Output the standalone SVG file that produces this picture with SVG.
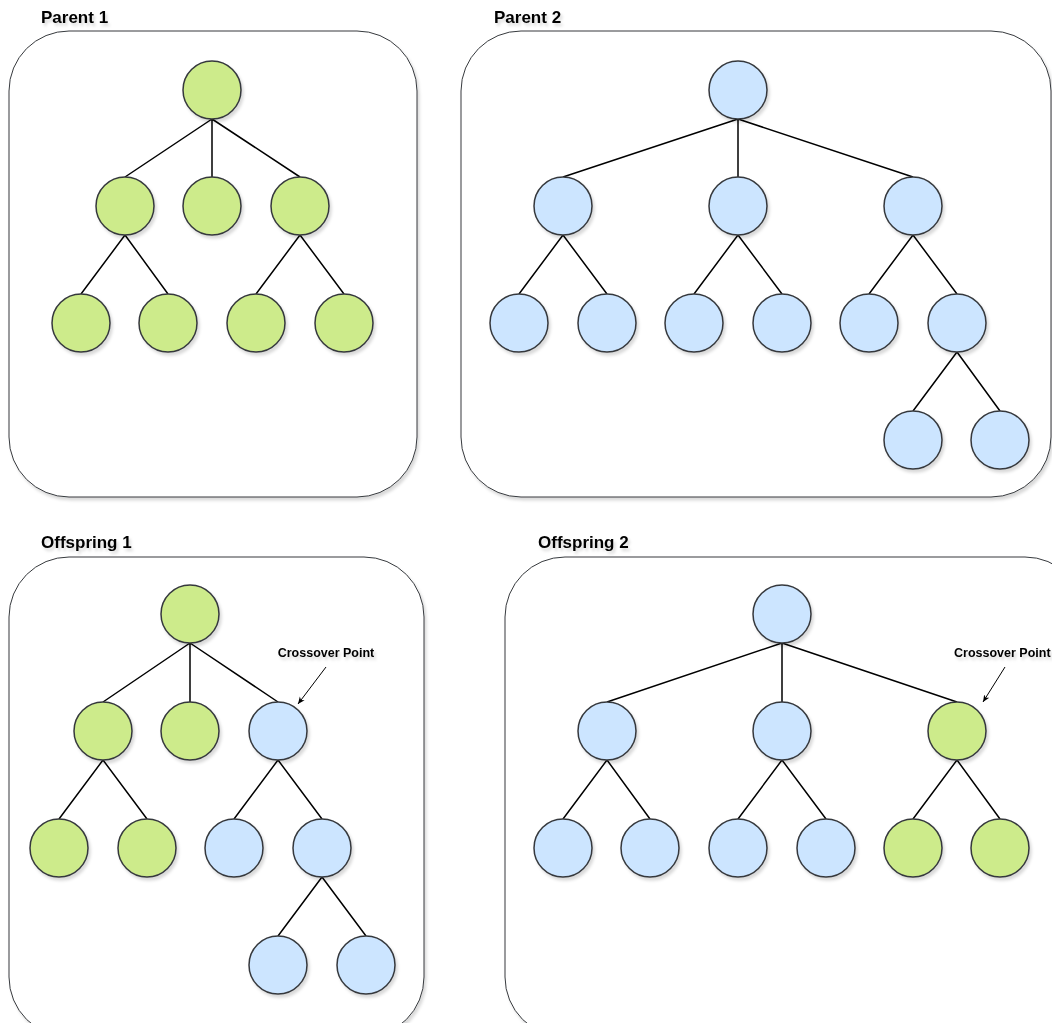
<svg xmlns="http://www.w3.org/2000/svg" width="1052" height="1023" viewBox="0 0 1052 1023">
<defs>
<filter id="sh" x="-10%" y="-10%" width="130%" height="130%"><feDropShadow dx="2" dy="3" stdDeviation="1.5" flood-color="#000" flood-opacity="0.15"/></filter>
<marker id="ah" markerWidth="8" markerHeight="8" refX="7" refY="4" orient="auto" markerUnits="userSpaceOnUse"><path d="M0,1 L7,4 L0,7 L2,4 Z" fill="#000"/></marker>
<style>
.box{fill:#fff;stroke:#36393d;stroke-width:1;filter:url(#sh)}
.g{fill:#cdeb8b;stroke:#36393d;stroke-width:1.5;filter:url(#sh)}
.b{fill:#cce5ff;stroke:#36393d;stroke-width:1.5;filter:url(#sh)}
.e{stroke:#000;stroke-width:1.5;fill:none}
.t{font-family:"Liberation Sans",Arial,sans-serif;font-weight:bold;font-size:17px;fill:#000;filter:url(#sh)}
.c{font-family:"Liberation Sans",Arial,sans-serif;font-weight:bold;font-size:12.5px;fill:#000;filter:url(#sh)}
.a{stroke:#000;stroke-width:1;fill:none;marker-end:url(#ah)}
</style>
</defs>
<rect width="1052" height="1023" fill="#fff"/>
<g id="frames">
<rect id="box-parent1" class="box" x="9" y="31" width="408" height="466" rx="60" ry="60"/>
<rect id="box-parent2" class="box" x="461" y="31" width="590" height="466" rx="60" ry="60"/>
<rect id="box-offspring1" class="box" x="9" y="557" width="415" height="480" rx="60" ry="60"/>
<rect id="box-offspring2" class="box" x="505" y="557" width="580" height="480" rx="60" ry="60"/>
</g>
<g id="labels">
<text class="t" x="41" y="23">Parent 1</text>
<text class="t" x="494" y="23">Parent 2</text>
<text class="t" x="41" y="548">Offspring 1</text>
<text class="t" x="538" y="548">Offspring 2</text>
<text class="c" x="326" y="657" text-anchor="middle">Crossover Point</text>
<text class="c" x="954" y="657">Crossover Point</text>
</g>
<g id="connectors">
<path class="e" d="M212,119 L125,177 M212,119 L212,177 M212,119 L300,177 M125,235 L81,294 M125,235 L168,294 M300,235 L256,294 M300,235 L344,294"/>
<path class="e" d="M738,119 L563,177 M738,119 L738,177 M738,119 L913,177 M563,235 L519,294 M563,235 L607,294 M738,235 L694,294 M738,235 L782,294 M913,235 L869,294 M913,235 L957,294 M957,352 L913,411 M957,352 L1000,411"/>
<path class="e" d="M190,643 L103,702 M190,643 L190,702 M190,643 L278,702 M103,760 L59,819 M103,760 L147,819 M278,760 L234,819 M278,760 L322,819 M322,877 L278,936 M322,877 L366,936"/>
<path class="e" d="M782,643 L607,702 M782,643 L782,702 M782,643 L957,702 M607,760 L563,819 M607,760 L650,819 M782,760 L738,819 M782,760 L826,819 M957,760 L913,819 M957,760 L1000,819"/>
<path id="arrow1" class="a" d="M326,667 L298,704"/>
<path id="arrow2" class="a" d="M1005,667 L983,702"/>
</g>
<g id="parent1">
<circle id="p1-n0" class="g" cx="212" cy="90" r="29"/>
<circle id="p1-n1" class="g" cx="125" cy="206" r="29"/>
<circle id="p1-n2" class="g" cx="212" cy="206" r="29"/>
<circle id="p1-n3" class="g" cx="300" cy="206" r="29"/>
<circle id="p1-n4" class="g" cx="81" cy="323" r="29"/>
<circle id="p1-n5" class="g" cx="168" cy="323" r="29"/>
<circle id="p1-n6" class="g" cx="256" cy="323" r="29"/>
<circle id="p1-n7" class="g" cx="344" cy="323" r="29"/>
</g>
<g id="parent2">
<circle id="p2-n0" class="b" cx="738" cy="90" r="29"/>
<circle id="p2-n1" class="b" cx="563" cy="206" r="29"/>
<circle id="p2-n2" class="b" cx="738" cy="206" r="29"/>
<circle id="p2-n3" class="b" cx="913" cy="206" r="29"/>
<circle id="p2-n4" class="b" cx="519" cy="323" r="29"/>
<circle id="p2-n5" class="b" cx="607" cy="323" r="29"/>
<circle id="p2-n6" class="b" cx="694" cy="323" r="29"/>
<circle id="p2-n7" class="b" cx="782" cy="323" r="29"/>
<circle id="p2-n8" class="b" cx="869" cy="323" r="29"/>
<circle id="p2-n9" class="b" cx="957" cy="323" r="29"/>
<circle id="p2-n10" class="b" cx="913" cy="440" r="29"/>
<circle id="p2-n11" class="b" cx="1000" cy="440" r="29"/>
</g>
<g id="offspring1">
<circle id="o1-n0" class="g" cx="190" cy="614" r="29"/>
<circle id="o1-n1" class="g" cx="103" cy="731" r="29"/>
<circle id="o1-n2" class="g" cx="190" cy="731" r="29"/>
<circle id="o1-n3" class="b" cx="278" cy="731" r="29"/>
<circle id="o1-n4" class="g" cx="59" cy="848" r="29"/>
<circle id="o1-n5" class="g" cx="147" cy="848" r="29"/>
<circle id="o1-n6" class="b" cx="234" cy="848" r="29"/>
<circle id="o1-n7" class="b" cx="322" cy="848" r="29"/>
<circle id="o1-n8" class="b" cx="278" cy="965" r="29"/>
<circle id="o1-n9" class="b" cx="366" cy="965" r="29"/>
</g>
<g id="offspring2">
<circle id="o2-n0" class="b" cx="782" cy="614" r="29"/>
<circle id="o2-n1" class="b" cx="607" cy="731" r="29"/>
<circle id="o2-n2" class="b" cx="782" cy="731" r="29"/>
<circle id="o2-n3" class="g" cx="957" cy="731" r="29"/>
<circle id="o2-n4" class="b" cx="563" cy="848" r="29"/>
<circle id="o2-n5" class="b" cx="650" cy="848" r="29"/>
<circle id="o2-n6" class="b" cx="738" cy="848" r="29"/>
<circle id="o2-n7" class="b" cx="826" cy="848" r="29"/>
<circle id="o2-n8" class="g" cx="913" cy="848" r="29"/>
<circle id="o2-n9" class="g" cx="1000" cy="848" r="29"/>
</g>
</svg>
